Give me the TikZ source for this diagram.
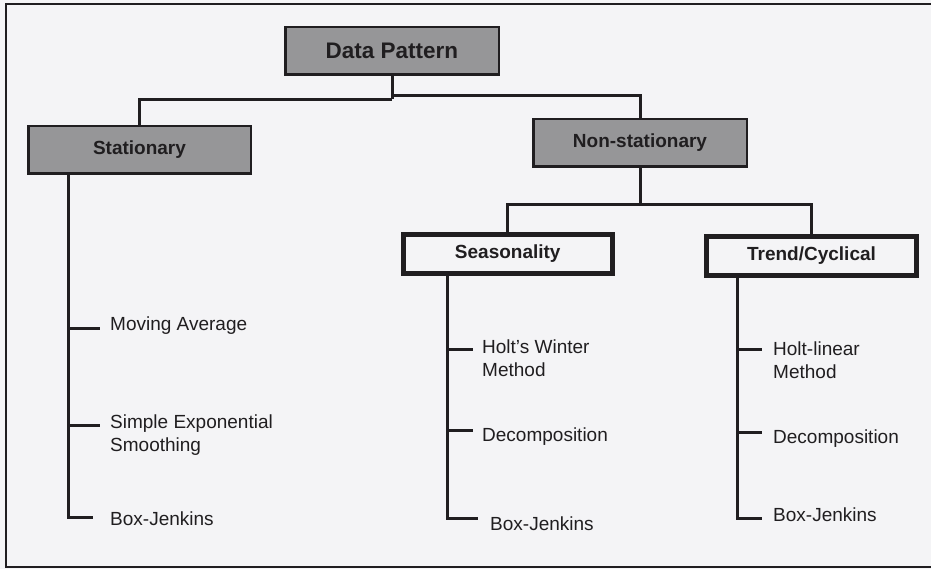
\documentclass[tikz,border=0pt]{standalone}
\usepackage{fontspec}
\setmainfont{Liberation Sans}
\definecolor{ink}{RGB}{32,30,32}
\definecolor{boxgray}{RGB}{150,150,152}
\definecolor{paper}{RGB}{244,244,246}
\begin{document}
\begin{tikzpicture}[x=1pt,y=-1pt,
  conn/.style={draw=ink,line width=3pt},
  graybox/.style={draw=ink,line width=2.5pt,fill=boxgray,minimum width=213.5pt,minimum height=47.5pt,inner sep=0pt,font=\bfseries\fontsize{19}{22}\selectfont,text=ink},
  whitebox/.style={draw=ink,line width=5pt,fill=paper,minimum height=39pt,inner sep=0pt,font=\bfseries\fontsize{19}{22}\selectfont,text=ink},
  leaf/.style={anchor=north west,inner sep=0pt,align=left,font=\fontsize{19}{22.5}\selectfont,text=ink}]
\fill[paper] (0,0) rectangle (931,569);
\useasboundingbox (0,0) rectangle (931,569);
% frame
\draw[ink,line width=2pt] (931,4.5) -- (6,4.5) -- (6,566.5) -- (931,566.5);
% boxes
\node[graybox,font=\bfseries\fontsize{22.5}{26}\selectfont] (dp) at (392,51) {Data Pattern};
\node[graybox,minimum width=222.5pt] (stat) at (139.5,150) {Stationary};
\node[graybox] (nonst) at (640,143) {Non-stationary};
\node[whitebox,minimum width=208.5pt] (seas) at (507.75,254) {Seasonality};
\node[whitebox,minimum width=210pt] (trend) at (811.5,256) {Trend/Cyclical};
% leaves
\node[leaf] (ma) at (110,317) {Moving Average};
\node[leaf] (ses) at (110,415) {Simple Exponential\\Smoothing};
\node[leaf] (bj1) at (110,512) {Box-Jenkins};
\node[leaf] (hw) at (482,340) {Holt’s Winter\\Method};
\node[leaf] (dc1) at (482,428) {Decomposition};
\node[leaf] (bj2) at (490,517) {Box-Jenkins};
\node[leaf] (hl) at (773,342) {Holt-linear\\Method};
\node[leaf] (dc2) at (773,430) {Decomposition};
\node[leaf] (bj3) at (773,508) {Box-Jenkins};
% junctions and branch ends
\coordinate (j1) at (392,99.5);
\coordinate (j1r) at (392,96);
\coordinate (j2) at (640,205);
\coordinate (sx) at (68,0);
\coordinate (ex) at (447,0);
\coordinate (tx) at (737,0);
\coordinate (ma-b) at (100,328);
\coordinate (ses-b) at (100,425);
\coordinate (bj1-b) at (93,517);
\coordinate (hw-b) at (473,349);
\coordinate (dc1-b) at (473,430);
\coordinate (bj2-b) at (478,518);
\coordinate (hl-b) at (762,349);
\coordinate (dc2-b) at (762,432);
\coordinate (bj3-b) at (762,518);
% connectors
\draw[conn] (dp.south) -- (j1);
\draw[conn] (stat.north) |- (j1);
\draw[conn] (j1r) -| (nonst.north);
\draw[conn] (nonst.south) -- (j2);
\draw[conn] (seas.north) |- (j2) -| (trend.north);
\draw[conn] (stat.south -| sx) |- (bj1-b);
\draw[conn] (ma-b -| sx) -- (ma-b);
\draw[conn] (ses-b -| sx) -- (ses-b);
\draw[conn] (seas.south -| ex) |- (bj2-b);
\draw[conn] (hw-b -| ex) -- (hw-b);
\draw[conn] (dc1-b -| ex) -- (dc1-b);
\draw[conn] (trend.south -| tx) |- (bj3-b);
\draw[conn] (hl-b -| tx) -- (hl-b);
\draw[conn] (dc2-b -| tx) -- (dc2-b);
\end{tikzpicture}
\end{document}
